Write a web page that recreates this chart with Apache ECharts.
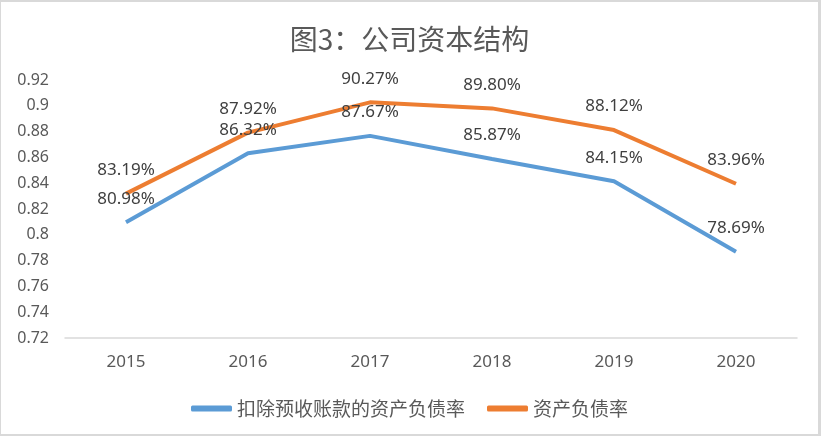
<!DOCTYPE html>
<html><head><meta charset="utf-8">
<script src="https://cdn.jsdelivr.net/npm/echarts@6/dist/echarts.min.js"></script>
<style>
html,body{margin:0;padding:0;background:#fff;}
#c{width:821px;height:436px;box-sizing:border-box;border-style:solid;border-color:#d9d9d9;border-width:2px 3px 2px 1px;}
</style></head>
<body><div id="c"></div>
<script>
var categories = ['2015','2016','2017','2018','2019','2020'];
var adjustedDebtRatio = [0.8098, 0.8632, 0.8767, 0.8587, 0.8415, 0.7869];
var debtRatio = [0.8319, 0.8792, 0.9027, 0.8980, 0.8812, 0.8396];
var seriesNames = ['扣除预收账款的资产负债率', '资产负债率'];
var yMin = 0.72, yMax = 0.92, yStep = 0.02;

var chart = echarts.init(document.getElementById('c'));
var font = '"Noto Sans", "Noto Sans CJK SC", sans-serif';
function pct(p){ return (p.value*100).toFixed(2) + '%'; }
chart.setOption({
  animation: false,
  title: {
    text: '图3：公司资本结构', left: 'center', top: 18,
    textStyle: {fontFamily: '"Noto Sans CJK SC", sans-serif', fontSize: 28, fontWeight: 'normal', color: '#595959'}
  },
  legend: {
    top: 392, left: 'center', itemWidth: 41, itemHeight: 6, itemGap: 22,
    icon: 'roundRect',
    textStyle: {fontFamily: '"Noto Sans CJK SC", sans-serif', fontSize: 19, color: '#595959'},
    data: seriesNames
  },
  grid: {left: 64, right: 21, top: 78, bottom: 96},
  xAxis: {
    type: 'category', data: categories, boundaryGap: true,
    axisLine: {lineStyle: {color: '#d9d9d9', width: 1.5}},
    axisTick: {show: false},
    axisLabel: {color: '#595959', fontSize: 17, margin: 16, fontFamily: font}
  },
  yAxis: {
    type: 'value', min: yMin, max: yMax, interval: yStep,
    axisLine: {show: false}, axisTick: {show: false}, splitLine: {show: false},
    axisLabel: {color: '#595959', fontSize: 16, margin: 16, fontFamily: font,
      formatter: function(v){ return String(parseFloat(v.toFixed(2))); }}
  },
  series: [
    {name: seriesNames[0], type: 'line', data: adjustedDebtRatio, showSymbol: true, symbol: 'circle', symbolSize: 0,
     lineStyle: {color: '#5b9bd5', width: 4}, itemStyle: {color: '#5b9bd5'},
     label: {show: true, position: 'top', distance: 15, formatter: pct, color: '#404040', fontSize: 17, fontFamily: font}},
    {name: seriesNames[1], type: 'line', data: debtRatio, showSymbol: true, symbol: 'circle', symbolSize: 0,
     lineStyle: {color: '#ed7d31', width: 4}, itemStyle: {color: '#ed7d31'},
     label: {show: true, position: 'top', distance: 15, formatter: pct, color: '#404040', fontSize: 17, fontFamily: font}}
  ]
});
</script></body></html>
